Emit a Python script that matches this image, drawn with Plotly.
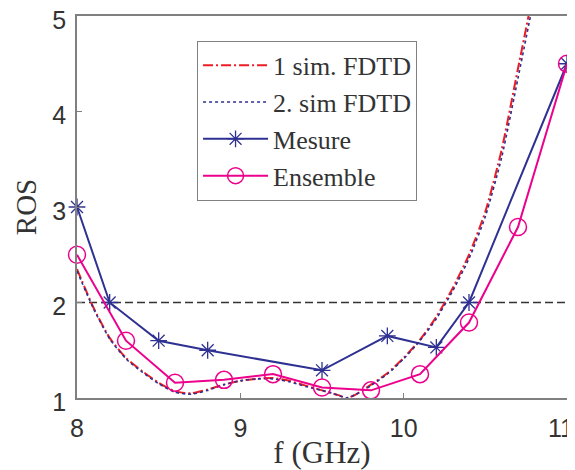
import plotly.graph_objects as go

# ---- data ----
f_sim = [8.0, 8.1, 8.2, 8.3, 8.4, 8.5, 8.6, 8.7, 8.8, 8.9, 9.0, 9.1, 9.2, 9.3, 9.4,
         9.5, 9.6, 9.65, 9.7, 9.8, 9.9, 10.0, 10.1, 10.2, 10.3, 10.4, 10.5, 10.6, 10.7, 10.8]
ros_sim1 = [2.35, 1.95, 1.63, 1.42, 1.28, 1.16, 1.07, 1.05, 1.09, 1.14, 1.18, 1.20, 1.21, 1.18, 1.13,
            1.08, 1.03, 1.00, 1.03, 1.14, 1.26, 1.42, 1.61, 1.85, 2.15, 2.50, 2.95, 3.60, 4.45, 5.30]
ros_sim2 = [2.33, 1.94, 1.62, 1.41, 1.27, 1.15, 1.06, 1.04, 1.08, 1.14, 1.18, 1.20, 1.20, 1.17, 1.12,
            1.08, 1.03, 1.00, 1.03, 1.13, 1.25, 1.41, 1.60, 1.83, 2.12, 2.46, 2.90, 3.52, 4.35, 5.20]

f_mesure = [8.0, 8.2, 8.5, 8.8, 9.5, 9.9, 10.2, 10.4, 11.0]
ros_mesure = [3.0, 2.0, 1.60, 1.50, 1.29, 1.65, 1.53, 2.0, 4.5]

f_ensemble = [8.0, 8.3, 8.6, 8.9, 9.2, 9.5, 9.8, 10.1, 10.4, 10.7, 11.0]
ros_ensemble = [2.5, 1.60, 1.16, 1.19, 1.25, 1.11, 1.08, 1.25, 1.79, 2.79, 4.5]

ref_x = [8.0, 11.0]
ref_y = [2.0, 2.0]

x_ticks = [8, 9, 10, 11]
x_tick_labels = ["8", "9", "10", "11<span style='color:rgba(0,0,0,0)'>1</span>"]
y_ticks = [1, 2, 3, 4, 5]

names = ["1 sim. FDTD", "2. sim FDTD", "Mesure", "Ensemble"]

RED = "#ED1C24"
NAVY = "#2E3192"
MAGENTA = "#EC008C"

fig = go.Figure()

fig.add_trace(go.Scatter(x=ref_x, y=ref_y, mode="lines", showlegend=False,
                         line=dict(color="#333333", width=1.6, dash="8px,4px")))

fig.add_trace(go.Scatter(x=f_sim, y=ros_sim1, mode="lines", name=names[0],
                         line=dict(color=RED, width=2, dash="10px,3px,2px,3px", shape="spline", smoothing=0.6)))
fig.add_trace(go.Scatter(x=f_sim, y=ros_sim2, mode="lines", name=names[1],
                         line=dict(color=NAVY, width=1.6, dash="dot", shape="spline", smoothing=0.6)))
fig.add_trace(go.Scatter(x=f_mesure, y=ros_mesure, mode="lines+markers", name=names[2],
                         cliponaxis=False,
                         line=dict(color=NAVY, width=2),
                         marker=dict(symbol="asterisk-open", size=14, color=NAVY,
                                     line=dict(color=NAVY, width=1.3))))
fig.add_trace(go.Scatter(x=f_ensemble, y=ros_ensemble, mode="lines+markers", name=names[3],
                         cliponaxis=False,
                         line=dict(color=MAGENTA, width=2),
                         marker=dict(symbol="circle-open", size=17, color=MAGENTA,
                                     line=dict(color=MAGENTA, width=1.5))))

axis_common = dict(
    automargin=False, ticklabeloverflow="allow",
    showgrid=False, zeroline=False, showline=True, linecolor="#808080", linewidth=1.5,
    mirror=True, ticks="inside", ticklen=5, tickcolor="#808080", tickwidth=1,
    tickfont=dict(family="Liberation Sans, Arial, sans-serif", size=25, color="#333333"),
)

# page body has an 8px default margin, so the figure is sized to fit the 575x470 window
fig.update_layout(
    width=567, height=462,
    margin=dict(l=69, r=8, t=8, b=72),
    paper_bgcolor="white", plot_bgcolor="white",
    xaxis=dict(range=[8, 11], tickvals=x_ticks, ticktext=x_tick_labels, ticklabelstandoff=7,
               title=dict(text="f (GHz)", standoff=7,
                          font=dict(family="Liberation Serif, Times New Roman, serif", size=31, color="#333333")),
               **axis_common),
    yaxis=dict(range=[1, 5], tickvals=y_ticks, ticklabelstandoff=4, ticklabelshift=4,
               title=dict(text="ROS", standoff=7,
                          font=dict(family="Liberation Serif, Times New Roman, serif", size=29, color="#333333")),
               **axis_common),
    legend=dict(x=0.245, y=0.935, xanchor="left", yanchor="top",
                bgcolor="white", bordercolor="#808080", borderwidth=1,
                font=dict(family="Liberation Serif, Times New Roman, serif", size=26, color="#333333"),
                itemwidth=65, tracegroupgap=0),
    showlegend=True,
)

fig.write_html("out.html")
